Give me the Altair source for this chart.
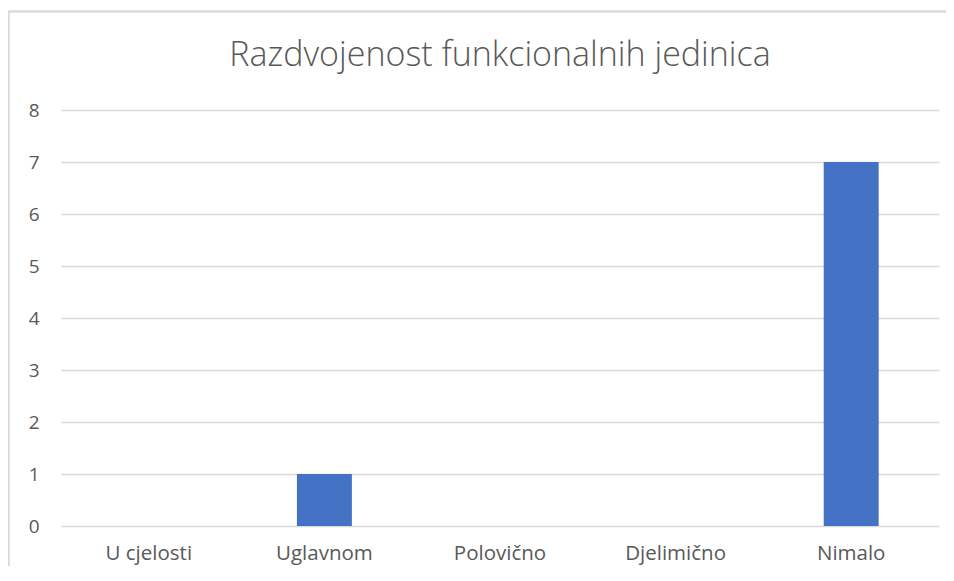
import altair as alt
import pandas as pd

categories = ["U cjelosti", "Uglavnom", "Polovično", "Djelimično", "Nimalo"]
values = [0, 1, 0, 0, 7]
title_text = "Razdvojenost funkcionalnih jedinica"

df = pd.DataFrame({"cat": categories, "val": values})

W, H = 878, 416
PADL, PADT = 53, 102

bars = alt.Chart(df).mark_bar(color="#4472c4").encode(
    x=alt.X("cat:N", sort=categories, title=None,
            scale=alt.Scale(paddingInner=0.687, paddingOuter=0.3435),
            axis=alt.Axis(labelAngle=0, domain=False, ticks=False, labelPadding=17,
                          labelFontSize=20.5, labelColor="#595959", labelFont="Open Sans")),
    y=alt.Y("val:Q", title=None, scale=alt.Scale(domain=[0, 8]),
            axis=alt.Axis(values=list(range(9)), domain=False, ticks=False, labelPadding=22,
                          labelFontSize=19, labelColor="#595959", labelFont="Open Sans",
                          gridColor="#d9d9d9", gridWidth=1.3)),
)

frame = alt.Chart(df).mark_rect(fill=None, stroke="#d9d9d9", strokeWidth=1.5).encode(
    x=alt.value(-PADL + 0.5), x2=alt.value(W + 100),
    y=alt.value(-99 + 0.5), y2=alt.value(H + 100),
)

chart = alt.layer(frame, bars).properties(
    width=W, height=H,
    title=alt.TitleParams(title_text, fontSize=34, font="Open Sans", fontWeight=300,
                          color="#595959", anchor="middle", offset=-62),
    autosize=alt.AutoSizeParams(type="none"),
    padding={"left": PADL, "top": PADT, "right": 7, "bottom": 40},
).configure_view(stroke=None)

chart.save("out.html", embed_options={"renderer": "svg", "actions": False})
